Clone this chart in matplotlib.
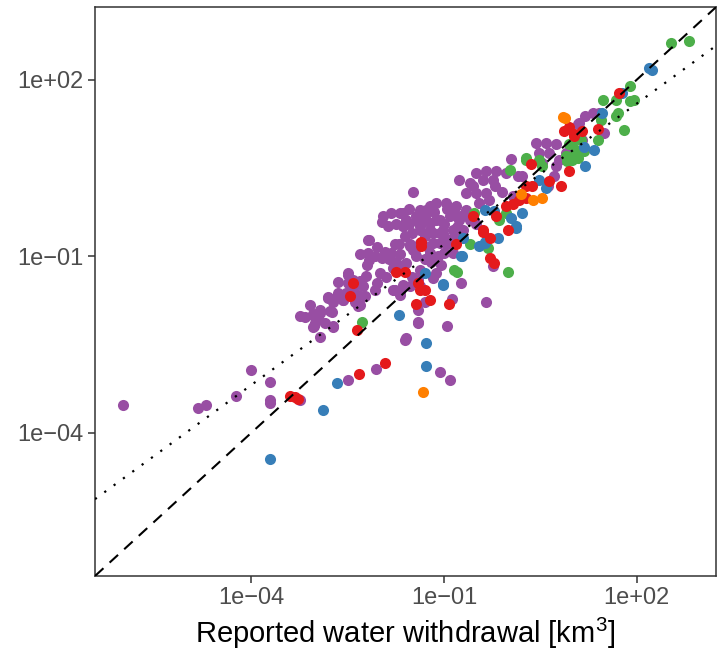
import numpy as np
import matplotlib
matplotlib.use("Agg")
import matplotlib.pyplot as plt

# ---- values, stored as log10(km3) ----
# x = reported withdrawal, y = modelled withdrawal
purple_lx = [-5.99, -4.82, -4.70, -4.24, -4.00, -3.70, -3.70, -3.70, -3.24, -2.49, -2.06, -1.60, -1.07, -0.90,
             -2.72, -3.03,
             -3.24, -3.09, -3.04, -2.93, -2.78, -3.01, -2.85, -2.73, -3.16, -2.96, -2.93, -3.04, -2.81, -2.65,
             -2.57, -2.50, -2.93, -2.75, -3.03,
             -2.49, -2.65, -2.21, -2.49, -2.41, -2.26, -2.52, -2.34, -2.57, -2.39, -2.23, -2.31, -2.65, -2.80,
             -2.72, -2.34, -2.00, -2.41, -2.30,
             -2.18, -2.16, -2.31, -2.19, -2.05, -1.92, -1.97, -2.16, -1.77, -1.69, -1.53, -1.49, -1.74, -1.64,
             -1.82, -2.08, -1.85,
             -1.95, -1.82, -1.69, -1.59, -1.87, -1.74, -1.64, -1.97, -1.49,
             -1.38, -1.22, -1.12, -1.43, -1.28, -1.12, -1.38, -1.22, -1.17, -1.07,
             -1.64, -1.64, -1.43, -1.28, -0.97, -0.81, -0.66, -1.38, -1.22, -1.07, -0.91, -0.76, -0.60, -1.17,
             -1.02, -0.86, -0.71, -1.53, -1.38, -1.07, -0.91, -1.59, -1.43, -1.22, -1.69, -1.38, -1.12, -1.38,
             -0.86, -1.50, -1.30, -1.00, -0.95, -1.15, -0.80, -1.55, -1.30, -1.00, -1.50, -1.20,
             -1.55, -1.30, -0.85, -0.70, -1.00, -0.80, -1.25, -1.45, -1.60, -1.10, -0.95, -1.70, -0.50,
             -1.05, -1.80, -2.20, -2.05, -1.90,
             -1.74, -1.77, -1.64, -1.69, -1.53, -2.08, -1.79, -1.69, -1.41, -1.33, -1.41, -1.41, -1.30, -1.17,
             -0.74, -0.88, -0.34, -0.96, -1.41, -1.59, -0.24,
             -0.76, -0.60, -0.50, -0.35, -0.19, -0.04, -0.40, -0.24, -0.66, -0.50, -0.35, -0.55, -0.20, 0.07,
             0.15, 0.04, -0.30, -0.10, -0.45,
             0.43, 0.58, 0.74, 0.48, 0.64, 0.79, 0.89, 0.53, 0.74, 0.22, 0.71, 0.61,
             1.31, 1.20, 1.10, 1.41, 1.49, 1.08, 1.15]
purple_ly = [-3.52, -3.57, -3.52, -3.38, -2.94, -3.14, -3.44, -3.50, -3.44, -3.11, -2.91, -2.42, -2.96, -3.10,
             -2.19, -2.19,
             -2.02, -1.82, -1.98, -1.96, -1.93, -2.13, -2.13, -2.20, -2.04, -2.04, -2.37, -2.20, -1.70, -1.65,
             -1.74, -1.31, -1.91, -1.94, -2.02,
             -1.28, -1.43, -1.34, -1.46, -1.54, -1.51, -1.63, -1.65, -1.74, -1.77, -1.68, -1.82, -1.63, -1.71,
             -1.77, -1.85, -1.28, -1.40, -1.42,
             -0.73, -0.72, -0.97, -0.94, -0.85, -0.92, -1.03, -1.06, -0.80, -0.97, -0.80, -0.89, -1.09, -1.17,
             -0.94, -1.00, -1.05,
             -0.32, -0.26, -0.26, -0.38, -0.49, -0.46, -0.49, -0.41, 0.10,
             -0.21, -0.15, -0.10, -0.38, -0.38, -0.38, -0.55, -0.55, -0.77, -0.60,
             -0.26, -0.49, -0.32, -0.21, -0.09, -0.15, -0.21, -0.49, -0.43, -0.38, -0.32, -0.38, -0.38, -0.60,
             -0.55, -0.55, -0.55, -0.83, -0.77, -0.77, -0.72, -1.11, -1.00, -0.94, -1.23, -1.23, -1.28, -1.51,
             -0.94, -0.60, -0.65, -0.45, -0.20, -0.25, -0.50, -0.45, -1.05, -0.95, -1.35, -1.10,
             -0.20, -0.30, -0.25, -0.30, -0.65, -0.65, -0.85, -0.90, -0.65, -1.00, -0.80, -0.80, -0.45,
             -1.15, -1.20, -1.15, -1.45, -1.35,
             -1.23, -1.57, -1.48, -1.60, -1.51, -1.57, -1.57, -1.65, -1.40, -1.28, -1.91, -2.11, -1.77, -1.37,
             -1.46, -1.73, -1.77, -2.19, -2.13, -2.39, -1.17,
             0.30, 0.25, 0.42, 0.44, 0.44, 0.42, 0.30, 0.30, 0.08, 0.08, 0.08, 0.20, 0.20, 0.02,
             0.36, 0.65, -0.05, 0.10, -0.10,
             0.93, 0.93, 0.90, 0.76, 0.76, 0.64, 0.76, 0.58, 0.53, 0.36, 0.36, 0.19,
             1.44, 1.38, 1.27, 1.44, 1.10, 1.24, 0.98]

green_lx = [-2.28, -0.80, -0.60, -0.32, -0.53, -0.84, 0.00, -0.14, -0.04,
            0.02, 0.27, 0.27, 0.48, 0.53, 0.89, 0.99, 1.05, 0.99,
            1.13, 0.99, 1.08, 0.92, 1.18, 0.95, 1.44, 1.39,
            1.47, 1.67, 1.90, 1.95, 1.70, 1.67, 1.80, 1.90, 2.53, 2.81]
green_ly = [-2.11, -1.26, -0.79, -0.86, -0.26, -1.23, -1.27, -0.38, -0.26,
            0.47, 0.64, 0.67, 0.64, 0.53, 0.70, 0.64, 0.81, 0.93,
            0.98, 0.70, 0.67, 0.61, 0.79, 0.90, 1.32, 0.98,
            1.66, 1.66, 1.63, 1.65, 1.43, 1.39, 1.15, 1.89, 2.63, 2.66]

blue_lx = [-3.70, -2.89, -2.67, -1.28, -1.28, -1.70, -1.30, -1.01, -0.37, -0.72,
           -0.37, -0.22, -0.71, -0.37, -0.16, -0.74, -0.45, 0.12, -1.02, 0.22, 0.12, 0.04,
           0.48, 0.58, 1.18, 1.33, 1.20, 1.46, 2.19, 2.24, 1.77]
blue_ly = [-4.44, -3.61, -3.15, -2.48, -2.86, -1.99, -1.28, -1.47, -0.77, -1.00,
           -0.21, -0.23, -0.69, -0.75, -0.69, -1.00, -0.83, -0.52, -1.48, -0.26, -0.49, -0.35,
           0.30, 0.16, 0.86, 0.81, 0.53, 1.44, 2.20, 2.17, 1.78]

red_lx = [-3.40, -3.32, -3.27, -2.33, -1.92, -2.36, -2.47, -2.41, -1.74, -1.61,
          -1.41, -1.38, -1.30, -1.43, -1.22, -0.93, -0.29, -0.22, -0.81, -0.40,
          -1.36, -1.36, -0.55, -0.40, -0.19, -0.01, -0.29,
          -0.04, 0.07, 0.17, 0.27, 0.35, 0.64, 0.82, 0.95, 0.87, 1.02, 0.95, 1.40,
          1.15, 1.02, 0.27, 0.37, 1.72]
red_ly = [-3.37, -3.39, -3.42, -3.00, -2.82, -2.26, -1.68, -1.45, -1.26, -1.26,
          -1.46, -1.57, -1.57, -1.81, -1.74, -1.81, -1.03, -1.11, -0.80, -0.58,
          -0.75, -0.82, -0.32, -0.55, -0.32, -0.55, -0.69,
          -0.15, -0.12, -0.04, -0.01, 0.56, 0.27, 0.19, 0.44, 1.12, 1.07, 1.20, 1.16,
          1.12, 1.04, 0.19, 0.19, 1.77]

orange_lx = [-1.33, 0.20, 0.38, 0.53, 0.88, 0.85]
orange_ly = [-3.30, 0.05, -0.04, -0.01, 1.34, 1.36]

# dotted fit line in log space: log y = slope * log x + intercept
fit_slope = 0.797
fit_intercept = 0.0

log_lim = (-6.43, 3.23)
tick_values = [1e-4, 1e-1, 1e2]
tick_labels = ["1e\u221204", "1e\u221201", "1e+02"]

groups = [
    (purple_lx, purple_ly, "#984EA3"),
    (green_lx, green_ly, "#4DAF4A"),
    (blue_lx, blue_ly, "#377EB8"),
    (red_lx, red_ly, "#E41A1C"),
    (orange_lx, orange_ly, "#FF7F00"),
]

plt.rcParams["font.family"] = ["Liberation Sans", "DejaVu Sans"]
plt.rcParams["mathtext.fontset"] = "custom"
plt.rcParams["mathtext.rm"] = "Liberation Sans"
plt.rcParams["mathtext.it"] = "Liberation Sans"

fig = plt.figure(figsize=(7.17, 6.56), dpi=100)
ax = fig.add_axes([0.1325, 0.122, 0.866, 0.867])

for lx, ly, col in groups:
    ax.scatter(10.0 ** np.array(lx), 10.0 ** np.array(ly), s=64, color=col,
               linewidths=0, zorder=2)

lim = 10.0 ** np.array(log_lim)
ax.plot(lim, lim, color="black", lw=1.5, linestyle=(0, (5.5, 4)), zorder=3)
fit_y = 10.0 ** (fit_slope * np.array(log_lim) + fit_intercept)
ax.plot(lim, fit_y, color="black", lw=1.6, linestyle=(0, (1, 4.2)), zorder=3)

ax.set_xscale("log")
ax.set_yscale("log")
ax.set_xlim(lim)
ax.set_ylim(lim)
ax.minorticks_off()
ax.set_xticks(tick_values)
ax.set_xticklabels(tick_labels)
ax.set_yticks(tick_values)
ax.set_yticklabels(tick_labels)
ax.tick_params(axis="both", length=5, width=1.1, color="#333333",
               labelcolor="#4D4D4D", labelsize=17, pad=3)
for sp in ax.spines.values():
    sp.set_color("#333333")
    sp.set_linewidth(1.1)

ax.set_xlabel("Reported water withdrawal [km$^3$]", fontsize=21, color="black", labelpad=5)

fig.savefig("out.png", dpi=100)
